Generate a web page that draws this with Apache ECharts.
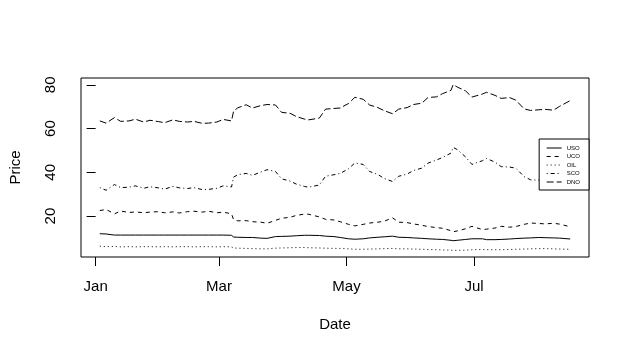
<!DOCTYPE html>
<html><head><meta charset="utf-8">
<script src="https://cdn.jsdelivr.net/npm/echarts@6/dist/echarts.min.js"></script>
<style>html,body{margin:0;padding:0;background:#fff}#c{width:630px;height:355px}</style>
</head><body><div id="c"></div>
<script>
const dates=["2017-01-03","2017-01-06","2017-01-10","2017-01-13","2017-01-17","2017-01-20","2017-01-24","2017-01-27","2017-01-31",
"2017-02-03","2017-02-07","2017-02-10","2017-02-14","2017-02-17","2017-02-21","2017-02-24","2017-02-28",
"2017-03-03","2017-03-07","2017-03-08","2017-03-10","2017-03-14","2017-03-17","2017-03-21","2017-03-24","2017-03-28","2017-03-31",
"2017-04-04","2017-04-07","2017-04-11","2017-04-13","2017-04-18","2017-04-21","2017-04-25","2017-04-28",
"2017-05-02","2017-05-05","2017-05-09","2017-05-12","2017-05-16","2017-05-19","2017-05-23","2017-05-26","2017-05-30",
"2017-06-02","2017-06-06","2017-06-09","2017-06-13","2017-06-16","2017-06-20","2017-06-21","2017-06-23","2017-06-27","2017-06-30",
"2017-07-05","2017-07-07","2017-07-11","2017-07-14","2017-07-18","2017-07-21","2017-07-25","2017-07-28",
"2017-08-01","2017-08-04","2017-08-08","2017-08-11","2017-08-16"];

const DNO=[63.5,62.5,65.0,63.3,63.5,64.3,63.0,63.8,63.2,
62.7,64.0,63.3,63.0,63.3,62.4,62.5,63.0,
64.2,63.5,68.0,69.5,70.9,69.4,70.5,71.0,70.8,67.4,
67.0,65.5,64.3,64.0,64.8,68.9,69.2,69.4,
71.5,74.3,73.4,70.8,69.6,68.2,66.8,68.9,69.6,
71.0,71.6,74.2,74.5,76.0,77.5,80.1,79.0,77.2,74.4,
75.8,76.6,75.2,73.8,74.2,73.0,69.0,68.3,
68.6,68.8,68.4,70.2,72.8];

const SCO=[33.0,31.8,34.4,33.0,33.2,33.8,32.7,33.4,32.9,
32.3,33.6,32.9,32.6,33.0,32.1,32.2,32.7,
33.8,33.3,37.8,38.9,39.5,38.6,40.1,41.2,40.4,37.0,
36.0,34.6,33.5,33.2,34.2,38.2,38.9,39.5,
41.6,44.3,43.6,40.4,39.0,37.2,35.8,38.2,39.2,
40.8,41.9,44.2,45.6,46.8,48.8,51.4,50.4,47.0,43.6,
45.3,46.3,44.7,42.6,42.4,41.9,38.0,36.6,
36.4,36.7,36.3,38.0,40.5];

const UCO=[22.5,23.0,21.0,22.3,21.6,21.9,21.5,21.8,22.0,
21.5,21.9,21.4,22.0,22.2,21.8,22.2,21.5,
21.8,21.0,18.3,17.8,17.9,17.4,17.2,16.7,18.0,19.0,
19.4,20.3,20.9,20.8,19.6,18.5,18.2,17.4,
16.2,15.5,16.2,16.8,17.2,17.6,19.2,17.2,17.0,
16.4,15.8,15.2,14.7,14.4,13.3,12.8,13.2,14.2,15.3,
13.8,14.0,14.5,15.3,14.9,15.2,16.2,16.8,
16.6,16.4,16.7,16.3,15.1];

const USO=[11.9,11.8,11.3,11.3,11.3,11.3,11.3,11.3,11.3,
11.3,11.3,11.3,11.3,11.3,11.3,11.3,11.3,
11.3,11.2,10.4,10.3,10.2,10.2,9.9,9.8,10.6,10.7,
10.8,11.0,11.2,11.2,11.1,10.8,10.6,10.2,
9.6,9.4,9.6,10.0,10.3,10.5,10.8,10.3,10.2,
10.0,9.8,9.6,9.4,9.3,8.9,8.7,8.9,9.3,9.6,
9.6,9.2,9.2,9.3,9.5,9.7,9.9,10.0,
10.2,10.1,10.0,9.9,9.5];

const OIL=[6.2,6.0,6.1,5.9,6.0,5.9,6.0,6.0,5.9,
6.0,5.9,6.0,6.0,5.9,6.0,6.0,5.9,
6.0,5.9,5.4,5.3,5.2,5.1,5.0,5.0,5.3,5.4,
5.5,5.6,5.6,5.5,5.4,5.3,5.2,5.2,
5.0,4.8,4.8,4.9,5.0,5.1,5.2,5.0,5.0,
4.9,4.8,4.7,4.6,4.5,4.4,4.3,4.3,4.4,4.6,
4.7,4.6,4.6,4.6,4.7,4.8,4.9,5.0,
5.1,5.1,5.0,4.9,4.8];

const seriesNames=["USO","UCO","OIL","SCO","DNO"];
const xTickDates=["2017-01-01","2017-03-01","2017-05-01","2017-07-01"];
const xTickLabels=["Jan","Mar","May","Jul"];
const yTicks=[20,40,60,80];

const values={USO:USO,UCO:UCO,OIL:OIL,SCO:SCO,DNO:DNO};
const dashes={USO:'solid',UCO:[4,4],OIL:[1,3],SCO:[1,3,4,3],DNO:[7,3]};

function dayOf(s){const p=s.split('-');return (Date.UTC(+p[0],+p[1]-1,+p[2])-Date.UTC(2017,0,1))/86400000;}
const days=dates.map(dayOf);
const xTickDays=xTickDates.map(dayOf);

const dMin=Math.min(...days), dMax=Math.max(...days);
const xPad=0.04*(dMax-dMin);
const allV=[].concat(USO,UCO,OIL,SCO,DNO);
const vMin=Math.min(...allV), vMax=Math.max(...allV);
const yPad=0.04*(vMax-vMin);

const FONT='"Liberation Sans", Arial, sans-serif';
const chart=echarts.init(document.getElementById('c'),null,{renderer:'canvas'});
chart.setOption({
  animation:false,
  backgroundColor:'#fff',
  textStyle:{fontFamily:FONT,color:'#000'},
  grid:{left:78,right:41,top:78,bottom:98,show:true,borderColor:'#000',borderWidth:1,backgroundColor:'transparent'},
  xAxis:{
    type:'value',min:dMin-xPad,max:dMax+xPad,
    name:'Date',nameLocation:'middle',nameGap:60,
    nameTextStyle:{fontSize:15,color:'#000',fontFamily:FONT},
    axisLine:{show:false},splitLine:{show:false},
    axisTick:{show:true,customValues:xTickDays,length:9,lineStyle:{color:'#000',width:1}},
    axisLabel:{customValues:xTickDays,margin:22,fontSize:15,color:'#000',fontFamily:FONT,
      formatter:function(v){const i=xTickDays.indexOf(v);return i>=0?xTickLabels[i]:'';}}
  },
  yAxis:{
    type:'value',min:vMin-yPad,max:vMax+yPad,
    name:'Price',nameLocation:'middle',nameGap:58,nameRotate:90,
    nameTextStyle:{fontSize:15,color:'#000',fontFamily:FONT},
    axisLine:{show:false},splitLine:{show:false},
    axisTick:{show:true,customValues:yTicks,length:9,lineStyle:{color:'#000',width:1}},
    axisLabel:{customValues:yTicks,rotate:90,margin:23,fontSize:15,color:'#000',fontFamily:FONT}
  },
  legend:{
    orient:'vertical',right:41,top:139,
    backgroundColor:'#fff',borderColor:'#000',borderWidth:1,borderRadius:0,
    padding:[6,9,5,7],itemWidth:15,itemHeight:7,itemGap:2.5,
    textStyle:{fontSize:6,color:'#000',fontFamily:FONT},
    itemStyle:{opacity:0},
    lineStyle:{width:1},
    data:seriesNames
  },
  series:seriesNames.map(n=>({
    name:n,type:'line',showSymbol:false,symbol:'none',
    lineStyle:{color:'#000',width:1,type:dashes[n]},
    itemStyle:{color:'#000'},
    emphasis:{disabled:true},
    data:days.map((d,i)=>[d,values[n][i]])
  }))
});
</script></body></html>
